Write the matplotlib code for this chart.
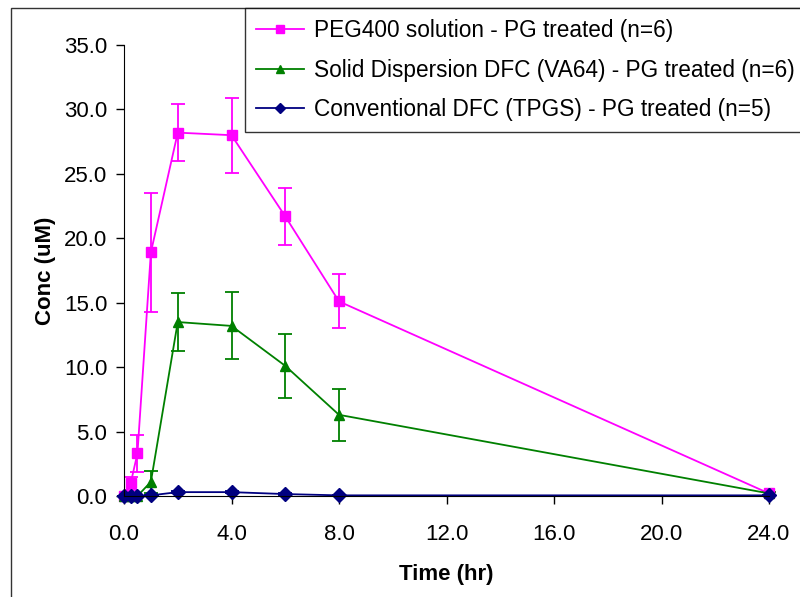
import matplotlib.pyplot as plt
from matplotlib.patches import Rectangle
from matplotlib.lines import Line2D

plt.rcParams['font.family'] = ['Liberation Sans', 'DejaVu Sans']

# sampling times (hr)
times = [0, 0.25, 0.5, 1, 2, 4, 6, 8, 24]

# PEG400 solution - PG treated (n=6)
peg_mean = [0.0, 1.0, 3.3, 18.9, 28.2, 28.0, 21.7, 15.1, 0.2]
peg_err = [0.0, 0.5, 1.4, 4.6, 2.2, 2.9, 2.2, 2.1, 0.1]

# Solid Dispersion DFC (VA64) - PG treated (n=6)
sd_mean = [0.0, 0.0, 0.0, 1.1, 13.5, 13.2, 10.1, 6.3, 0.2]
sd_err = [0.0, 0.0, 0.0, 0.85, 2.25, 2.6, 2.5, 2.0, 0.1]

# Conventional DFC (TPGS) - PG treated (n=5)
conv_mean = [0.0, 0.0, 0.0, 0.05, 0.3, 0.3, 0.15, 0.05, 0.05]
conv_err = [0.0, 0.0, 0.0, 0.05, 0.1, 0.1, 0.05, 0.03, 0.03]

labels = ['PEG400 solution - PG treated (n=6)',
          'Solid Dispersion DFC (VA64) - PG treated (n=6)',
          'Conventional DFC (TPGS) - PG treated (n=5)']
colors = ['#FF00FF', '#008000', '#000080']
markers = ['s', '^', 'D']

xticks = [0, 4, 8, 12, 16, 20, 24]
yticks = [0, 5, 10, 15, 20, 25, 30, 35]

fig = plt.figure(figsize=(8, 5.97), dpi=100)
ax = fig.add_axes([124/800, 1-496/597, (769-124)/800, (496-45)/597])

series = [(peg_mean, peg_err), (sd_mean, sd_err), (conv_mean, conv_err)]
handles = []
for (m, e), c, mk, lab in zip(series, colors, markers, labels):
    ms = 7.5 if mk != 'D' else 7
    ax.errorbar(times, m, yerr=e, color=c, marker=mk, markersize=ms,
                linewidth=1.3, elinewidth=1.3, capsize=4.7, capthick=1.3,
                clip_on=False)
    handles.append(Line2D([], [], color=c, marker=mk, markersize=ms * 0.8,
                          linewidth=1.3))

ax.set_xlim(0, 24)
ax.set_ylim(0, 35)
ax.set_xticks(xticks)
ax.set_xticklabels(['%.1f' % v for v in xticks])
ax.set_yticks(yticks)
ax.set_yticklabels(['%.1f' % v for v in yticks])
ax.tick_params(direction='out', length=6, width=1, labelsize=16)
ax.tick_params(axis='x', pad=14)
ax.tick_params(axis='y', pad=6)
ax.spines['top'].set_visible(False)
ax.spines['right'].set_visible(False)
ax.set_xlabel('Time (hr)', fontsize=16, fontweight='bold', labelpad=14)
ax.set_ylabel('Conc (uM)', fontsize=16, fontweight='bold', labelpad=6)

# outer chart border
fig.add_artist(Rectangle((11/800, -0.1), 1.2, 1.1 - 8/597, transform=fig.transFigure,
                         fill=False, edgecolor='#333333', linewidth=1))

leg = fig.legend(handles=handles, labels=labels, loc='upper left',
                 bbox_to_anchor=(245/800, 1-8/597), bbox_transform=fig.transFigure,
                 borderaxespad=0, fontsize=16.3, frameon=True, fancybox=False,
                 edgecolor='black', handlelength=2.1, handletextpad=0.45,
                 labelspacing=0.72, borderpad=0.5)
leg.get_frame().set_linewidth(1)

fig.savefig('out.png', dpi=100)
